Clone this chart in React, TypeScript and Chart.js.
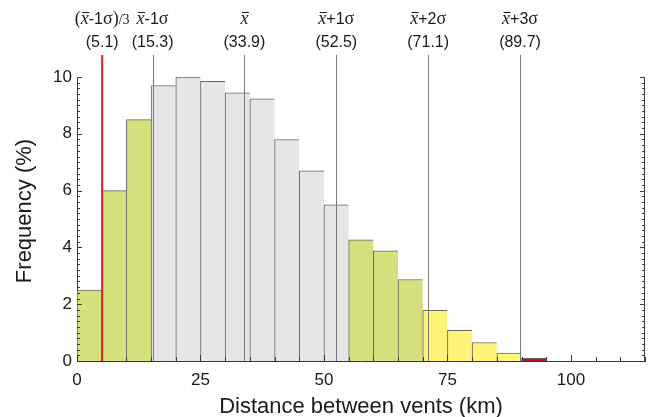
import React, { useEffect, useRef } from 'react';
import { Chart, registerables } from 'chart.js';

Chart.register(...registerables);

// ---- data ----
const binStarts = [0, 5, 10, 15, 20, 25, 30, 35, 40, 45, 50, 55, 60, 65, 70, 75, 80, 85, 90];
const binWidth = 5;
const frequencies = [2.5, 6.0, 8.5, 9.7, 10.0, 9.85, 9.44, 9.23, 7.8, 6.7, 5.5, 4.27, 3.88, 2.87, 1.78, 1.08, 0.65, 0.28, 0.09];
const statNames = ['(x̄-1σ)/3', 'x̄-1σ', 'x̄', 'x̄+1σ', 'x̄+2σ', 'x̄+3σ'];
const statValues = [5.1, 15.3, 33.9, 52.5, 71.1, 89.7];
const xTicks = [0, 25, 50, 75, 100];
const yTicks = [0, 2, 4, 6, 8, 10];
const xMax = 115;
const yMax = 10;
const xTitle = 'Distance between vents (km)';
const yTitle = 'Frequency (%)';

// ---- styles ----
// zones: below x̄-1σ, x̄-1σ..x̄+1σ, x̄+1σ..x̄+2σ, x̄+2σ..x̄+3σ, above x̄+3σ
const zoneLimits = [statValues[1], statValues[3], statValues[4], statValues[5]];
const zoneColors = ['#d5df7c', '#e6e6e6', '#d5df7c', '#fff47a', '#b5121b'];
const SANS = '"Liberation Sans", Arial, Helvetica, sans-serif';
const SERIF = '"Liberation Serif", "Times New Roman", serif';

function zoneOf(center: number) {
  let z = 0;
  zoneLimits.forEach((lim, i) => {
    if (center > lim) z = i + 1;
  });
  return z;
}

type Seg = { t: string; f: string; bar?: boolean };

function segmentsFor(name: string, size: number): Seg[] {
  const segs: Seg[] = [];
  const chars = Array.from(name);
  const sans = `${size - 1}px ${SANS}`;
  const serif = `${size + 1}px ${SERIF}`;
  const ital = `italic ${size + 1}px ${SERIF}`;
  const small = `${size - 3}px ${SERIF}`;
  let afterClose = false;
  for (let i = 0; i < chars.length; i++) {
    const c = chars[i];
    if (c === 'x') {
      segs.push({ t: 'x', f: ital, bar: true });
      if (chars[i + 1] === '\u0304') i++;
    } else if (c === 'σ' || c === '(') {
      segs.push({ t: c, f: serif });
    } else if (c === ')') {
      segs.push({ t: c, f: serif });
      afterClose = true;
    } else if (afterClose) {
      segs.push({ t: c, f: small });
    } else {
      segs.push({ t: c, f: sans });
    }
  }
  return segs;
}

const decor = {
  id: 'decor',
  afterDatasetsDraw(chart: any) {
    const { ctx, chartArea: a, scales } = chart;
    const x = scales.x;
    const y = scales.y;
    ctx.save();
    ctx.strokeStyle = '#3a3a3a';
    ctx.lineWidth = 1;
    // right axis
    const rx = Math.round(a.right) - 0.5;
    ctx.beginPath();
    ctx.moveTo(rx, a.top);
    ctx.lineTo(rx, a.bottom);
    ctx.stroke();
    // y ticks (inward, minor every 0.2)
    ctx.beginPath();
    for (let k = 0; k <= yMax * 5; k++) {
      const v = k / 5;
      const py = Math.round(y.getPixelForValue(v)) + 0.5;
      const major = k % 10 === 0;
      const len = major ? 5 : 3;
      ctx.moveTo(a.left, py);
      ctx.lineTo(a.left + len, py);
      ctx.moveTo(a.right, py);
      ctx.lineTo(a.right - len, py);
    }
    // x ticks every 5 (inward)
    for (let v = 0; v <= xMax; v += 5) {
      const px = Math.round(x.getPixelForValue(v)) + 0.5;
      const len = v % 25 === 0 ? 6 : 4;
      ctx.moveTo(px, a.bottom);
      ctx.lineTo(px, a.bottom - len);
    }
    ctx.stroke();

    // stat lines
    statValues.forEach((v, i) => {
      const px = x.getPixelForValue(v);
      ctx.beginPath();
      if (i === 0) {
        ctx.strokeStyle = '#d2232a';
        ctx.lineWidth = 2;
        ctx.moveTo(px, 55);
        ctx.lineTo(px, a.bottom);
      } else {
        ctx.strokeStyle = '#7a7a7a';
        ctx.lineWidth = 1;
        ctx.moveTo(Math.round(px) + 0.5, 55);
        ctx.lineTo(Math.round(px) + 0.5, a.bottom);
      }
      ctx.stroke();
    });

    // stat labels
    ctx.fillStyle = '#1a1a1a';
    ctx.textBaseline = 'alphabetic';
    ctx.textAlign = 'left';
    statValues.forEach((v, i) => {
      const px = x.getPixelForValue(v);
      const segs = segmentsFor(statNames[i], 17);
      let total = 0;
      const widths = segs.map((s) => {
        ctx.font = s.f;
        const w = ctx.measureText(s.t).width;
        total += w;
        return w;
      });
      let cx = px - total / 2;
      const base = 24;
      segs.forEach((s, j) => {
        ctx.font = s.f;
        ctx.fillText(s.t, cx, base);
        if (s.bar) {
          ctx.strokeStyle = '#1a1a1a';
          ctx.lineWidth = 1;
          ctx.beginPath();
          ctx.moveTo(cx + 1.5, base - 11.5);
          ctx.lineTo(cx + widths[j] + 0.5, base - 11.5);
          ctx.stroke();
        }
        cx += widths[j];
      });
      ctx.font = `16px ${SANS}`;
      ctx.textAlign = 'center';
      ctx.fillText(`(${v.toFixed(1)})`, px, 47);
      ctx.textAlign = 'left';
    });

    // axis titles
    ctx.fillStyle = '#1a1a1a';
    ctx.font = `22px ${SANS}`;
    ctx.textAlign = 'center';
    ctx.fillText(xTitle, (a.left + a.right) / 2, 413);
    ctx.save();
    ctx.translate(31, 211);
    ctx.rotate(-Math.PI / 2);
    ctx.fillText(yTitle, 0, 0);
    ctx.restore();
    ctx.restore();
  },
};

export default function App() {
  const ref = useRef<HTMLCanvasElement>(null);
  useEffect(() => {
    const canvas = ref.current!;
    const last = frequencies.length - 1;
    const chart = new Chart(canvas, {
      type: 'bar',
      data: {
        datasets: [
          {
            data: frequencies.map((f, i) => ({ x: binStarts[i] + binWidth / 2, y: f })),
            backgroundColor: binStarts.map((s) => zoneColors[zoneOf(s + binWidth / 2)]),
            borderColor: '#666666',
            borderWidth: (c: any) => ({ left: 1, top: 1, right: c.dataIndex === last ? 1 : 0, bottom: 0 }),
            barPercentage: 1,
            categoryPercentage: 1,
          } as any,
        ],
      },
      options: {
        responsive: false,
        animation: false,
        devicePixelRatio: 1,
        layout: { padding: { left: 0, right: 11, top: 77, bottom: 0 } },
        plugins: { legend: { display: false }, tooltip: { enabled: false } },
        scales: {
          x: {
            type: 'linear',
            min: 0,
            max: xMax,
            offset: false,
            afterBuildTicks: (s: any) => {
              s.ticks = xTicks.map((v) => ({ value: v }));
            },
            afterFit: (s: any) => {
              s.height = 56;
            },
            grid: { display: false, drawTicks: false },
            border: { display: true, color: '#3a3a3a', width: 1 },
            ticks: {
              padding: 9,
              autoSkip: false,
              maxRotation: 0,
              color: '#1a1a1a',
              font: { family: SANS, size: 17 },
            },
          },
          y: {
            type: 'linear',
            min: 0,
            max: yMax,
            afterBuildTicks: (s: any) => {
              s.ticks = yTicks.map((v) => ({ value: v }));
            },
            afterFit: (s: any) => {
              s.width = 77;
            },
            grid: { display: false, drawTicks: false },
            border: { display: true, color: '#3a3a3a', width: 1 },
            ticks: {
              padding: 5,
              color: '#1a1a1a',
              font: { family: SANS, size: 17 },
            },
          },
        },
      } as any,
      plugins: [decor],
    });
    return () => chart.destroy();
  }, []);
  return (
    <div style={{ position: 'fixed', left: 0, top: 0, width: 656, height: 417, background: '#fff' }}>
      <canvas ref={ref} width={656} height={417} style={{ width: 656, height: 417, display: 'block' }} />
    </div>
  );
}
